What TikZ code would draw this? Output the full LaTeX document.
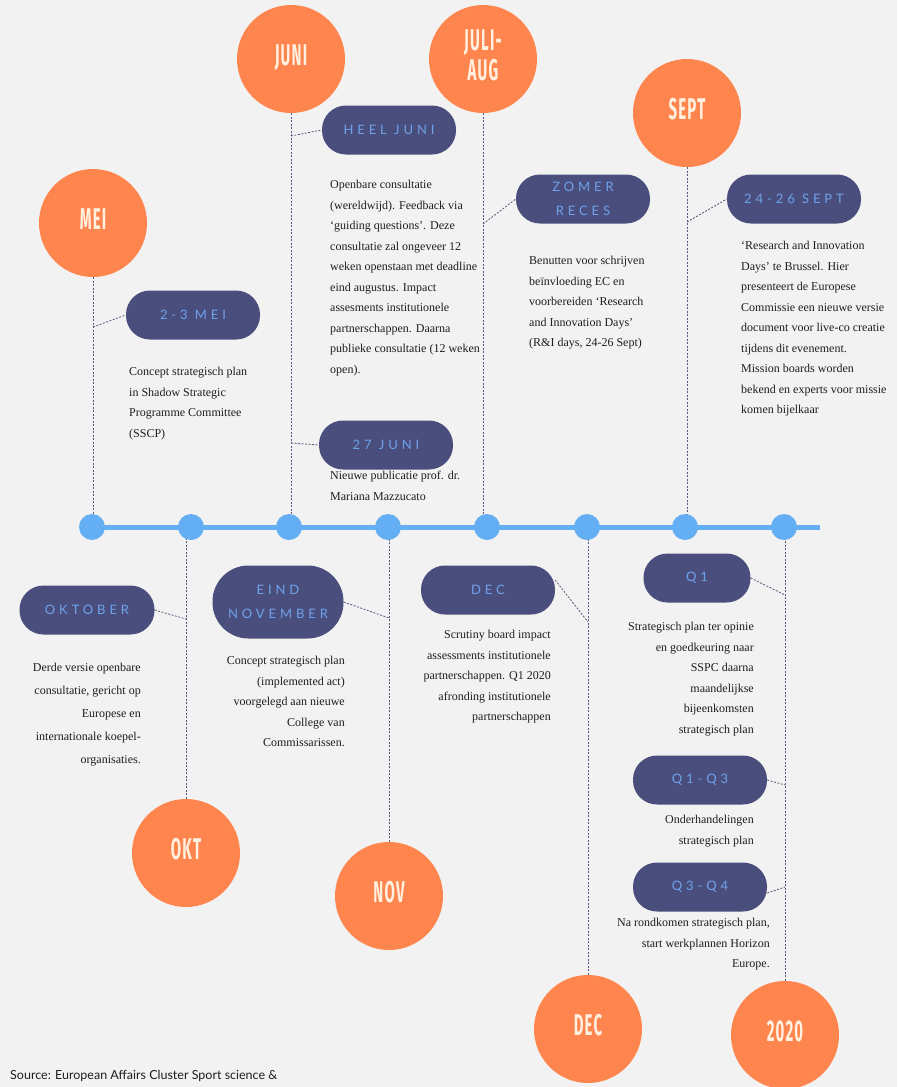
\documentclass[tikz,border=0pt]{standalone}
\usepackage{fontspec}
\usepackage{graphicx}
\setmainfont{Liberation Serif}
\newfontfamily\pillfont[LetterSpace=30]{Lato}
\newfontfamily\monthfont[LetterSpace=8]{Fira Sans}
\newfontfamily\srcfont{Lato}
\definecolor{bg}{HTML}{F2F2F2}
\definecolor{orng}{HTML}{FF854E}
\definecolor{navy}{HTML}{4A4E7D}
\definecolor{pilltxt}{HTML}{6FA2EA}
\definecolor{tline}{HTML}{64AFF4}
\definecolor{dashc}{HTML}{55597A}
\definecolor{bodytxt}{HTML}{1E1E1E}
\definecolor{monthtxt}{HTML}{FFF0E0}
\newcommand{\mtx}[1]{\scalebox{0.5}[1]{\begin{tabular}{@{}c@{}}#1\end{tabular}}}
\begin{document}
\begin{tikzpicture}[x=1pt,y=-1pt,
  month/.style={circle, fill=orng, minimum size=108pt, inner sep=0pt, text=monthtxt,
    font=\monthfont\bfseries\fontsize{30}{27}\selectfont},
  dotnode/.style={circle, fill=tline, minimum size=26pt, inner sep=0pt},
  pill/.style={fill=navy, rounded corners=24pt, minimum width=134pt, minimum height=49pt,
    inner sep=0pt, text=pilltxt, align=center, font=\pillfont\fontsize{13}{24}\selectfont},
  vl/.style={draw=dashc, line width=0.8pt, dash pattern=on 2pt off 1.5pt},
  txt/.style={inner sep=0pt, text=bodytxt, font=\fontsize{12}{20.5}\selectfont},
  ltxt/.style={txt, align=left, anchor=north west},
  rtxt/.style={txt, align=right, anchor=north east}]
\useasboundingbox[fill=bg] (0,0) rectangle (897,1087);

% timeline
\coordinate (tlstart) at (80,527);
\coordinate (tlend) at (820,527);

% month circles
\node[month] (mei) at (93,223) {\mtx{MEI}};
\node[month] (juni) at (291,59) {\mtx{JUNI}};
\node[month] (juli) at (483,59) {\mtx{JULI-\\AUG}};
\node[month] (sept) at (687,113) {\mtx{SEPT}};
\node[month] (okt) at (186,853) {\mtx{OKT}};
\node[month] (nov) at (389,896) {\mtx{NOV}};
\node[month] (decm) at (588,1029) {\mtx{DEC}};
\node[month] (y2020) at (785,1035) {\mtx{2020}};

% dot positions on the timeline
\foreach \x/\n in {92/d1,191/d2,289/d3,388/d4,487/d5,587/d6,685/d7,784/d8}
  \coordinate (\n) at (\x,527);

% pills
\node[pill] (p23mei) at (193,315) {2-3 MEI};
\node[pill] (heel) at (389,130) {HEEL JUNI};
\node[pill] (p27) at (386,445) {27 JUNI};
\node[pill] (zomer) at (583,199) {ZOMER\\RECES};
\node[pill] (p2426) at (794,199) {24-26 SEPT};
\node[pill, minimum width=135pt] (pokt) at (87,610) {OKTOBER};
\node[pill, minimum width=131pt, minimum height=73pt, rounded corners=36pt] (peind) at (278,602) {EIND\\NOVEMBER};
\node[pill] (pdec) at (488,590) {DEC};
\node[pill, minimum width=107pt] (pq1) at (697,578) {Q1};
\node[pill] (pq13) at (700,780) {Q1-Q3};
\node[pill] (pq34) at (700,887) {Q3-Q4};

% vertical dashed connectors
\draw[vl] (mei.south) -- (mei.south |- d1);
\draw[vl] (juni.south) -- (juni.south |- d3);
\draw[vl] (juli.south) -- (juli.south |- d5);
\draw[vl] (sept.south) -- (sept.south |- d7);
\draw[vl] (okt.north) -- (okt.north |- d2);
\draw[vl] (nov.north) -- (nov.north |- d4);
\draw[vl] (decm.north) -- (decm.north |- d6);
\draw[vl] (y2020.north) -- (y2020.north |- d8);

% diagonal connectors
\coordinate (m1) at (93,327);
\coordinate (m2) at (291,136);
\coordinate (m3) at (291,443);
\coordinate (m4) at (483,224);
\coordinate (m5) at (687,222);
\coordinate (m6) at (186,619);
\coordinate (m7) at (389,618);
\coordinate (m8) at (588,622);
\coordinate (m9) at (785,595);
\coordinate (m10) at (785,785);
\coordinate (m11) at (785,887);
\draw[vl] (m1) -- (p23mei.west);
\draw[vl] (m2) -- (heel.west);
\draw[vl] (m3) -- (p27.west);
\draw[vl] (m4) -- (zomer.west);
\draw[vl] (m5) -- (p2426.west);
\draw[vl] (pokt.east) -- (m6);
\draw[vl] (peind.east) -- (m7);
\draw[vl] ([yshift=10pt]pdec.east) -- (m8);
\draw[vl] (pq1.east) -- (m9);
\draw[vl] (pq13.east) -- (m10);
\draw[vl] ([yshift=-6pt]pq34.east) -- (m11);

% timeline line and dots
\draw[tline, line width=5pt] (tlstart) -- (tlend);
\foreach \x/\n in {92/e1,191/e2,289/e3,388/e4,487/e5,587/e6,685/e7,784/e8}
  \node[dotnode] (\n) at (\x,527) {};

% texts
\node[ltxt] (t23mei) at (129,367) {Concept strategisch plan\\in Shadow Strategic\\Programme Committee\\(SSCP)};
\node[ltxt] (theel) at (330,180) {Openbare consultatie\\(wereldwijd). Feedback via\\‘guiding questions’. Deze\\consultatie zal ongeveer 12\\weken openstaan met deadline\\eind augustus. Impact\\assesments institutionele\\partnerschappen. Daarna\\publieke consultatie (12 weken\\open).};
\node[ltxt] (t27) at (330,471) {Nieuwe publicatie prof. dr.\\Mariana Mazzucato};
\node[ltxt] (tzomer) at (529,256) {Benutten voor schrijven\\beïnvloeding EC en\\voorbereiden ‘Research\\and Innovation Days’\\(R\&I days, 24-26 Sept)};
\node[ltxt] (tsept) at (741,241) {‘Research and Innovation\\Days’ te Brussel. Hier\\presenteert de Europese\\Commissie een nieuwe versie\\document voor live-co creatie\\tijdens dit evenement.\\Mission boards worden\\bekend en experts voor missie\\komen bijelkaar};
\node[rtxt, font=\fontsize{12}{23}\selectfont] (tokt) at (141,663) {Derde versie openbare\\consultatie, gericht op\\Europese en\\internationale koepel-\\organisaties.};
\node[rtxt] (tnov) at (345,656) {Concept strategisch plan\\(implemented act)\\voorgelegd aan nieuwe\\College van\\Commissarissen.};
\node[rtxt] (tdec) at (551,630) {Scrutiny board impact\\assessments institutionele\\partnerschappen. Q1 2020\\afronding institutionele\\partnerschappen};
\node[rtxt] (tq1) at (754,622) {Strategisch plan ter opinie\\en goedkeuring naar\\SSPC daarna\\maandelijkse\\bijeenkomsten\\strategisch plan};
\node[rtxt] (tq13) at (754,815) {Onderhandelingen\\strategisch plan};
\node[rtxt] (tq34) at (770,918) {Na rondkomen strategisch plan,\\start werkplannen Horizon\\Europe.};

\node[anchor=west, inner sep=0pt, text=bodytxt, font=\srcfont\fontsize{12.5}{14}\selectfont] (src) at (10,1076) {Source: European Affairs Cluster Sport science \&};
\end{tikzpicture}
\end{document}
